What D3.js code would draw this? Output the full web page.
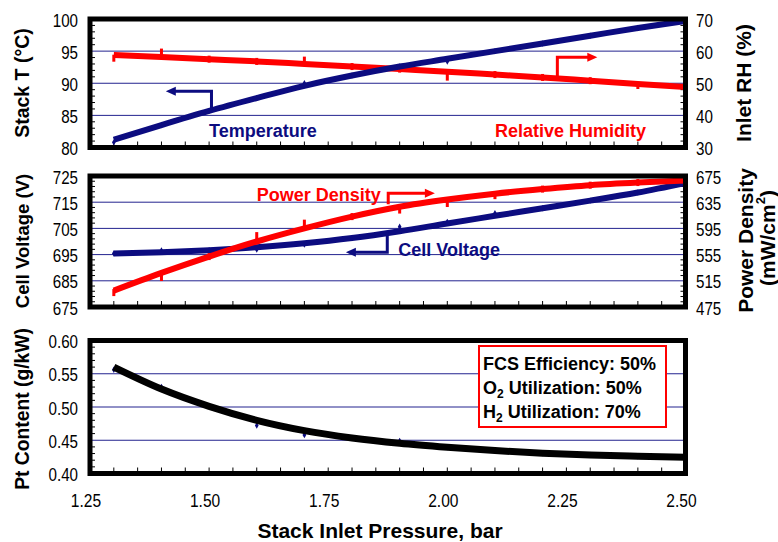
<!DOCTYPE html>
<html>
<head>
<meta charset="utf-8">
<script src="https://cdn.jsdelivr.net/npm/d3@7"></script>
<style>
body { margin: 0; background: #ffffff; }
text { font-family: "Liberation Sans", Arial, sans-serif; }
</style>
</head>
<body>
<svg id="chart" width="778" height="542"></svg>
<script>
// stack inlet pressure (bar) for every operating point
const pressure = [1.3, 1.4, 1.5, 1.6, 1.7, 1.8, 1.9, 2.0, 2.1, 2.2, 2.3, 2.4, 2.5];

// top panel: fitted curves and the computed points
const stackTempFit = [81.2, 83.5, 85.7, 87.7, 89.6, 91.2, 92.6, 93.8, 95.0, 96.2, 97.4, 98.6, 99.7];
const stackTempPts = [80.8, 83.5, 85.7, 87.7, 90.0, 91.2, 92.6, 93.4, 95.0, 96.2, 97.4, 98.6, 99.7];
const inletRHFit = [58.8, 58.2, 57.5, 56.8, 56.0, 55.2, 54.4, 53.6, 52.7, 51.8, 50.8, 49.8, 48.8];
const inletRHPts = [57.8, 59.7, 57.5, 56.8, 57.2, 55.2, 54.4, 51.9, 52.7, 51.8, 50.8, 49.3, 48.8];

// middle panel
const cellVoltageFit = [695.4, 695.9, 696.7, 697.8, 699.3, 701.3, 703.9, 706.9, 709.8, 712.7, 715.6, 718.7, 722.3];
const cellVoltagePts = [695.4, 696.6, 696.7, 696.9, 698.8, 701.3, 705.6, 707.5, 710.8, 712.7, 715.6, 718.7, 722.3];
const powerDensityFit = [500, 527, 552, 575, 595, 613, 628, 639, 648, 655, 661, 665, 668];
const powerDensityPts = [497, 520, 552, 584, 603, 613, 623, 633, 645, 655, 661, 665, 668];

// bottom panel
const ptContentFit = [0.560, 0.527, 0.501, 0.480, 0.4645, 0.4535, 0.4455, 0.4395, 0.4345, 0.4305, 0.4278, 0.4260, 0.4245];
const ptContentPts = [0.556, 0.530, 0.501, 0.472, 0.458, 0.4535, 0.449, 0.4395, 0.4345, 0.4305, 0.4278, 0.4260, 0.4245];

// ticks
const pressureTicks = [1.25, 1.5, 1.75, 2.0, 2.25, 2.5];
const tempTicks = [80, 85, 90, 95, 100];
const rhTicks = [30, 40, 50, 60, 70];
const voltageTicks = [675, 685, 695, 705, 715, 725];
const powerTicks = [475, 515, 555, 595, 635, 675];
const ptTicks = [0.40, 0.45, 0.50, 0.55, 0.60];

const conditionLines = [
    ["FCS Efficiency: 50%"],
    ["O", "2", " Utilization: 50%"],
    ["H", "2", " Utilization: 70%"]
];

const NAVY = "#0c0c80";
const RED = "#ff0000";
const GRID = "#23238f";
const FRAME_LEFT = 90;
const FRAME_RIGHT = 685.5;

var svg = d3.select("#chart");

var x = d3.scaleLinear()
    .domain([1.25, 2.5])
    .range([FRAME_LEFT, FRAME_RIGHT]);

var yTemp = d3.scaleLinear().domain([80, 100]).range([147.5, 19]);
var yRH = d3.scaleLinear().domain([30, 70]).range([147.5, 19]);
var yVolt = d3.scaleLinear().domain([675, 725]).range([307, 176]);
var yPower = d3.scaleLinear().domain([475, 675]).range([307, 176]);
var yPt = d3.scaleLinear().domain([0.40, 0.60]).range([473.5, 340.5]);

function minorValues(ticks) {
    var out = [];
    var step = (ticks[1] - ticks[0]) / 5;
    for (var i = 0; i < ticks.length - 1; i++) {
        for (var k = 1; k < 5; k++) {
            out.push(ticks[i] + step * k);
        }
    }
    return out;
}

function tickLabel(g, px, py, txt, anchor) {
    g.append("text")
        .attr("transform", "translate(" + px + "," + py + ") scale(0.82,1)")
        .attr("text-anchor", anchor)
        .attr("dominant-baseline", "central")
        .attr("font-size", 18.5)
        .attr("fill", "#000")
        .text(txt);
}

function drawPanel(yLeft, leftTicks, leftFmt, yRight, rightTicks) {
    var g = svg.append("g");
    var yr = yLeft.range();
    // grid lines
    g.selectAll(".grid")
        .data(leftTicks.slice(1, -1))
        .enter()
        .append("line")
        .attr("x1", FRAME_LEFT).attr("x2", FRAME_RIGHT)
        .attr("y1", function(d) { return yLeft(d); })
        .attr("y2", function(d) { return yLeft(d); })
        .attr("stroke", GRID)
        .attr("stroke-width", 1);
    // minor ticks on left axis
    g.selectAll(".minorL")
        .data(minorValues(leftTicks))
        .enter()
        .append("line")
        .attr("x1", FRAME_LEFT).attr("x2", FRAME_LEFT + 5)
        .attr("y1", function(d) { return yLeft(d); })
        .attr("y2", function(d) { return yLeft(d); })
        .attr("stroke", "#000").attr("stroke-width", 1);
    if (yRight) {
        g.selectAll(".minorR")
            .data(minorValues(rightTicks))
            .enter()
            .append("line")
            .attr("x1", FRAME_RIGHT - 5).attr("x2", FRAME_RIGHT)
            .attr("y1", function(d) { return yRight(d); })
            .attr("y2", function(d) { return yRight(d); })
            .attr("stroke", "#000").attr("stroke-width", 1);
    }
    // x ticks every 0.05 bar
    g.selectAll(".xtick")
        .data(d3.range(26).map(function(i) { return 1.25 + i * 0.05; }))
        .enter()
        .append("line")
        .attr("x1", function(d) { return x(d); })
        .attr("x2", function(d) { return x(d); })
        .attr("y1", yr[0] - 6).attr("y2", yr[0])
        .attr("stroke", "#000").attr("stroke-width", 1);
    // tick labels
    leftTicks.forEach(function(t) {
        tickLabel(svg, 78, yLeft(t) + 1.5, leftFmt(t), "end");
    });
    if (yRight) {
        rightTicks.forEach(function(t) {
            tickLabel(svg, 696, yRight(t) + 1.5, String(t), "start");
        });
    }
    return g;
}

function drawFrame(yLeft) {
    var yr = yLeft.range();
    svg.append("rect")
        .attr("x", FRAME_LEFT)
        .attr("y", yr[1])
        .attr("width", FRAME_RIGHT - FRAME_LEFT)
        .attr("height", yr[0] - yr[1])
        .attr("fill", "none")
        .attr("stroke", "#000")
        .attr("stroke-width", 5);
}

function drawSeries(yScale, fit, pts, color, width, markerColor, markerShape) {
    var line = d3.line()
        .x(function(d, i) { return x(pressure[i]); })
        .y(function(d) { return yScale(d); })
        .curve(d3.curveMonotoneX);
    // computed points go under the fitted curve
    var sym = d3.symbol().type(d3.symbolDiamond).size(12);
    svg.selectAll(null)
        .data(pts)
        .enter()
        .append(markerShape === "bar" ? "rect" : "path")
        .each(function(d, i) {
            var el = d3.select(this);
            if (markerShape === "bar") {
                el.attr("x", x(pressure[i]) - 1.5)
                    .attr("y", yScale(d) - 3.5)
                    .attr("width", 3)
                    .attr("height", 7);
            } else {
                el.attr("d", sym)
                    .attr("transform", "translate(" + x(pressure[i]) + "," + yScale(d) + ")");
            }
        })
        .attr("fill", markerColor);
    svg.append("path")
        .datum(fit)
        .attr("d", line)
        .attr("fill", "none")
        .attr("stroke", color)
        .attr("stroke-width", width);
}

function bentArrow(pts, color, head) {
    svg.append("path")
        .attr("d", d3.line()(pts))
        .attr("fill", "none")
        .attr("stroke", color)
        .attr("stroke-width", 3);
    var end = pts[pts.length - 1];
    var dir = head === "left" ? -1 : 1;
    svg.append("path")
        .attr("d", d3.line()([
            [end[0] + dir * 9, end[1]],
            [end[0] - dir * 1, end[1] - 4.5],
            [end[0] - dir * 1, end[1] + 4.5]
        ]) + "Z")
        .attr("fill", color);
}

function label(px, py, txt, color, size) {
    svg.append("text")
        .attr("x", px).attr("y", py)
        .attr("font-size", size)
        .attr("font-weight", "bold")
        .attr("fill", color)
        .text(txt);
}

function axisTitle(cx, cy, size) {
    return svg.append("text")
        .attr("transform", "translate(" + cx + "," + cy + ") rotate(-90)")
        .attr("text-anchor", "middle")
        .attr("dominant-baseline", "central")
        .attr("font-size", size)
        .attr("font-weight", "bold")
        .attr("fill", "#000");
}

var fmtInt = function(d) { return String(d); };
var fmtPt = d3.format(".2f");

// ---------- top panel ----------
drawPanel(yTemp, tempTicks, fmtInt, yRH, rhTicks);
drawSeries(yRH, inletRHFit, inletRHPts, RED, 6, RED, "bar");
drawSeries(yTemp, stackTempFit, stackTempPts, NAVY, 6, NAVY, "diamond");
drawFrame(yTemp);

bentArrow([[x(1.505), yTemp(85.9)], [x(1.505), yTemp(88.75)], [x(1.428), yTemp(88.75)]], NAVY, "left");
bentArrow([[x(2.231), yRH(51.6)], [x(2.231), yRH(58.1)], [x(2.296), yRH(58.1)]], RED, "right");
label(x(1.5), yTemp(81.6), "Temperature", NAVY, 18);
label(x(2.1), yTemp(81.6), "Relative Humidity", RED, 18);

// ---------- middle panel ----------
drawPanel(yVolt, voltageTicks, fmtInt, yPower, powerTicks);
drawSeries(yVolt, cellVoltageFit, cellVoltagePts, NAVY, 6, NAVY, "diamond");
drawSeries(yPower, powerDensityFit, powerDensityPts, RED, 6, RED, "bar");
drawFrame(yVolt);

bentArrow([[x(1.876), yPower(632)], [x(1.876), yPower(648.5)], [x(1.955), yPower(648.5)]], RED, "right");
bentArrow([[x(1.874), yVolt(703.6)], [x(1.874), yVolt(695.9)], [x(1.806), yVolt(695.9)]], NAVY, "left");
label(x(1.6), yVolt(715.6), "Power Density", RED, 18);
label(x(1.897), yVolt(694.6), "Cell Voltage", NAVY, 18);

// ---------- bottom panel ----------
drawPanel(yPt, ptTicks, fmtPt, null, null);
drawSeries(yPt, ptContentFit, ptContentPts, "#000", 7, NAVY, "diamond");
drawFrame(yPt);

// condition box
var box = svg.append("g");
box.append("rect")
    .attr("x", 479).attr("y", 346)
    .attr("width", 187).attr("height", 81)
    .attr("fill", "#fff")
    .attr("stroke", RED)
    .attr("stroke-width", 2);
conditionLines.forEach(function(parts, i) {
    var t = box.append("text")
        .attr("x", 483)
        .attr("y", 370 + i * 24)
        .attr("font-size", 18)
        .attr("font-weight", "bold")
        .attr("fill", "#000");
    t.append("tspan").text(parts[0]);
    if (parts.length > 1) {
        t.append("tspan").attr("font-size", 12).attr("dy", 4).text(parts[1]);
        t.append("tspan").attr("dy", -4).text(parts[2]);
    }
});

// x tick labels
pressureTicks.forEach(function(t) {
    svg.append("text")
        .attr("transform", "translate(" + (x(t) - 4) + ",507) scale(0.82,1)")
        .attr("text-anchor", "middle")
        .attr("font-size", 19)
        .attr("fill", "#000")
        .text(d3.format(".2f")(t));
});

// axis titles
axisTitle(22, 83, 19.5).text("Stack T (°C)");
axisTitle(22, 241, 18.5).text("Cell Voltage (V)");
axisTitle(22, 409, 19.3).text("Pt Content (g/kW)");
axisTitle(743, 83, 21).text("Inlet RH (%)");
axisTitle(745, 240.5, 21).text("Power Density");
var pdUnit = axisTitle(767, 238, 21);
pdUnit.append("tspan").text("(mW/cm");
pdUnit.append("tspan").attr("font-size", 13).attr("dy", -7).text("2");
pdUnit.append("tspan").attr("dy", 7).text(")");

svg.append("text")
    .attr("x", 380)
    .attr("y", 538)
    .attr("text-anchor", "middle")
    .attr("font-size", 21)
    .attr("font-weight", "bold")
    .attr("fill", "#000")
    .text("Stack Inlet Pressure, bar");
</script>
</body>
</html>
